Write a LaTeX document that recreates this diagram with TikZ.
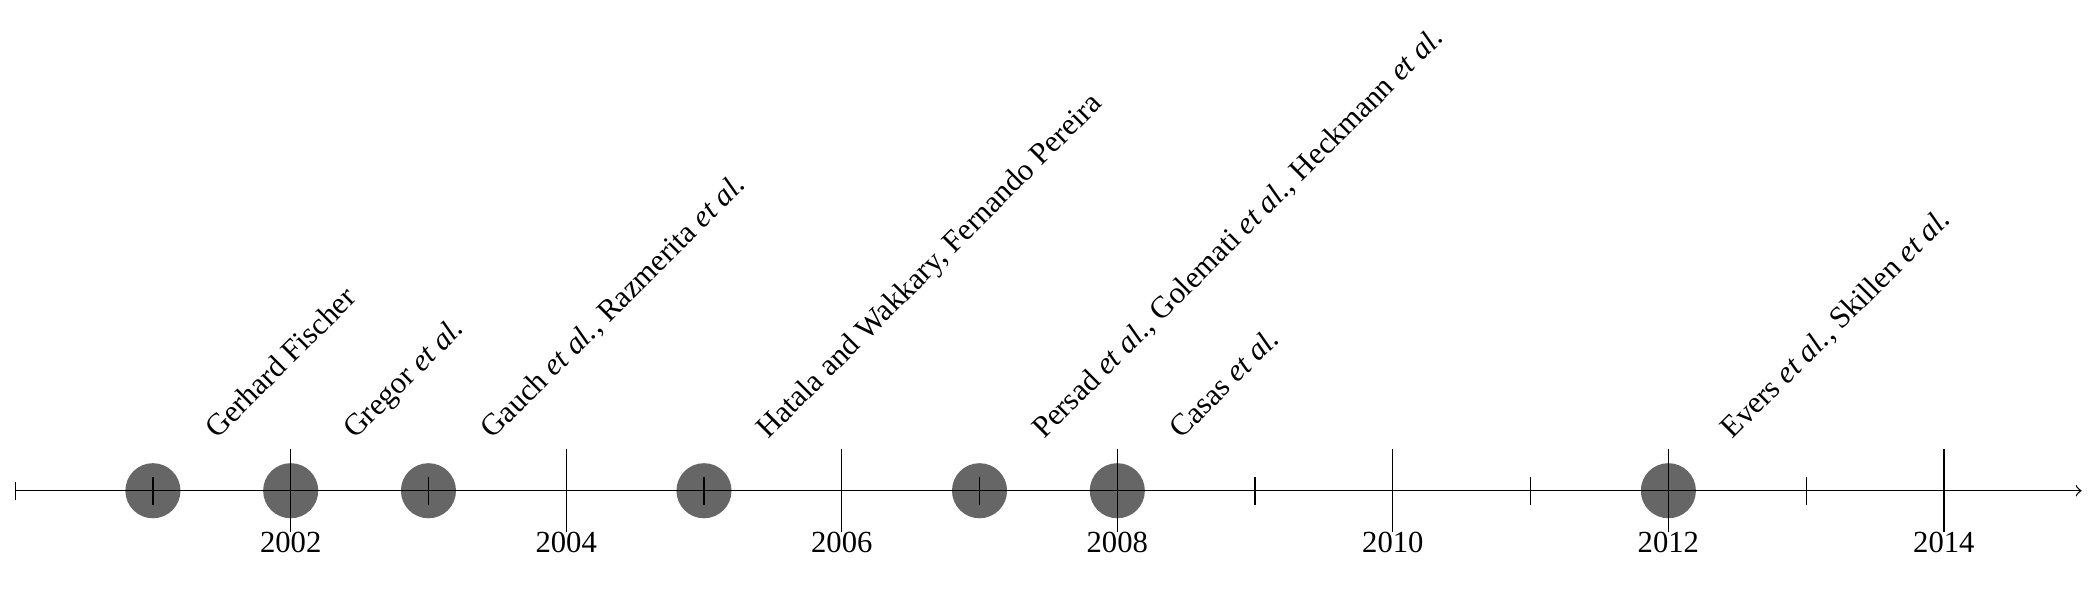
\documentclass[tikz,border=0pt]{standalone}
\usepackage{fontspec}
\setmainfont{Liberation Serif}
\begin{document}
\begin{tikzpicture}[x=1.5cm,y=1.5cm,
  font=\fontsize{9.5}{11.4}\selectfont,
  evt/.style={circle, fill=black!60, minimum size=0.6cm, inner sep=0pt},
  yearlab/.style={anchor=base, inner sep=0pt},
  evlab/.style={rotate=45, anchor=base west, inner sep=0pt},
  majortick/.style={draw},
  minortick/.style={draw}]
\useasboundingbox (-0.110,-0.779) rectangle (15.046,3.562);
% events
\foreach \y in {1,2,3,5,7,8,12} \node[evt] (e\y) at (\y,0) {};
% axis
\coordinate (axstart) at (0,0);
\coordinate (axend) at (15,0);
\draw[|->] (axstart) -- (axend);
% ticks and year labels
\foreach \y in {2,4,...,14} {
  \draw[majortick] (\y,0.3) -- (\y,-0.3);
  \node[yearlab] (y\y) at (\y,-0.445) {\number\numexpr2000+\y\relax};
}
\foreach \y in {1,3,...,13} \draw[minortick] (\y,0.1) -- (\y,-0.1);
% event labels
\node[evlab] (l1) at (1.465,0.365) {Gerhard Fischer};
\node[evlab] (l2) at (2.465,0.365) {Gregor \emph{et al.}};
\node[evlab] (l3) at (3.465,0.365) {Gauch \emph{et al.}, Razmerita \emph{et al.}};
\node[evlab] (l5) at (5.465,0.365) {Hatala and Wakkary, Fernando Pereira};
\node[evlab] (l7) at (7.465,0.365) {Persad \emph{et al.}, Golemati \emph{et al.}, Heckmann \emph{et al.}};
\node[evlab] (l8) at (8.465,0.365) {Casas \emph{et al.}};
\node[evlab] (l12) at (12.465,0.365) {Evers \emph{et al.}, Skillen \emph{et al.}};
\end{tikzpicture}
\end{document}
